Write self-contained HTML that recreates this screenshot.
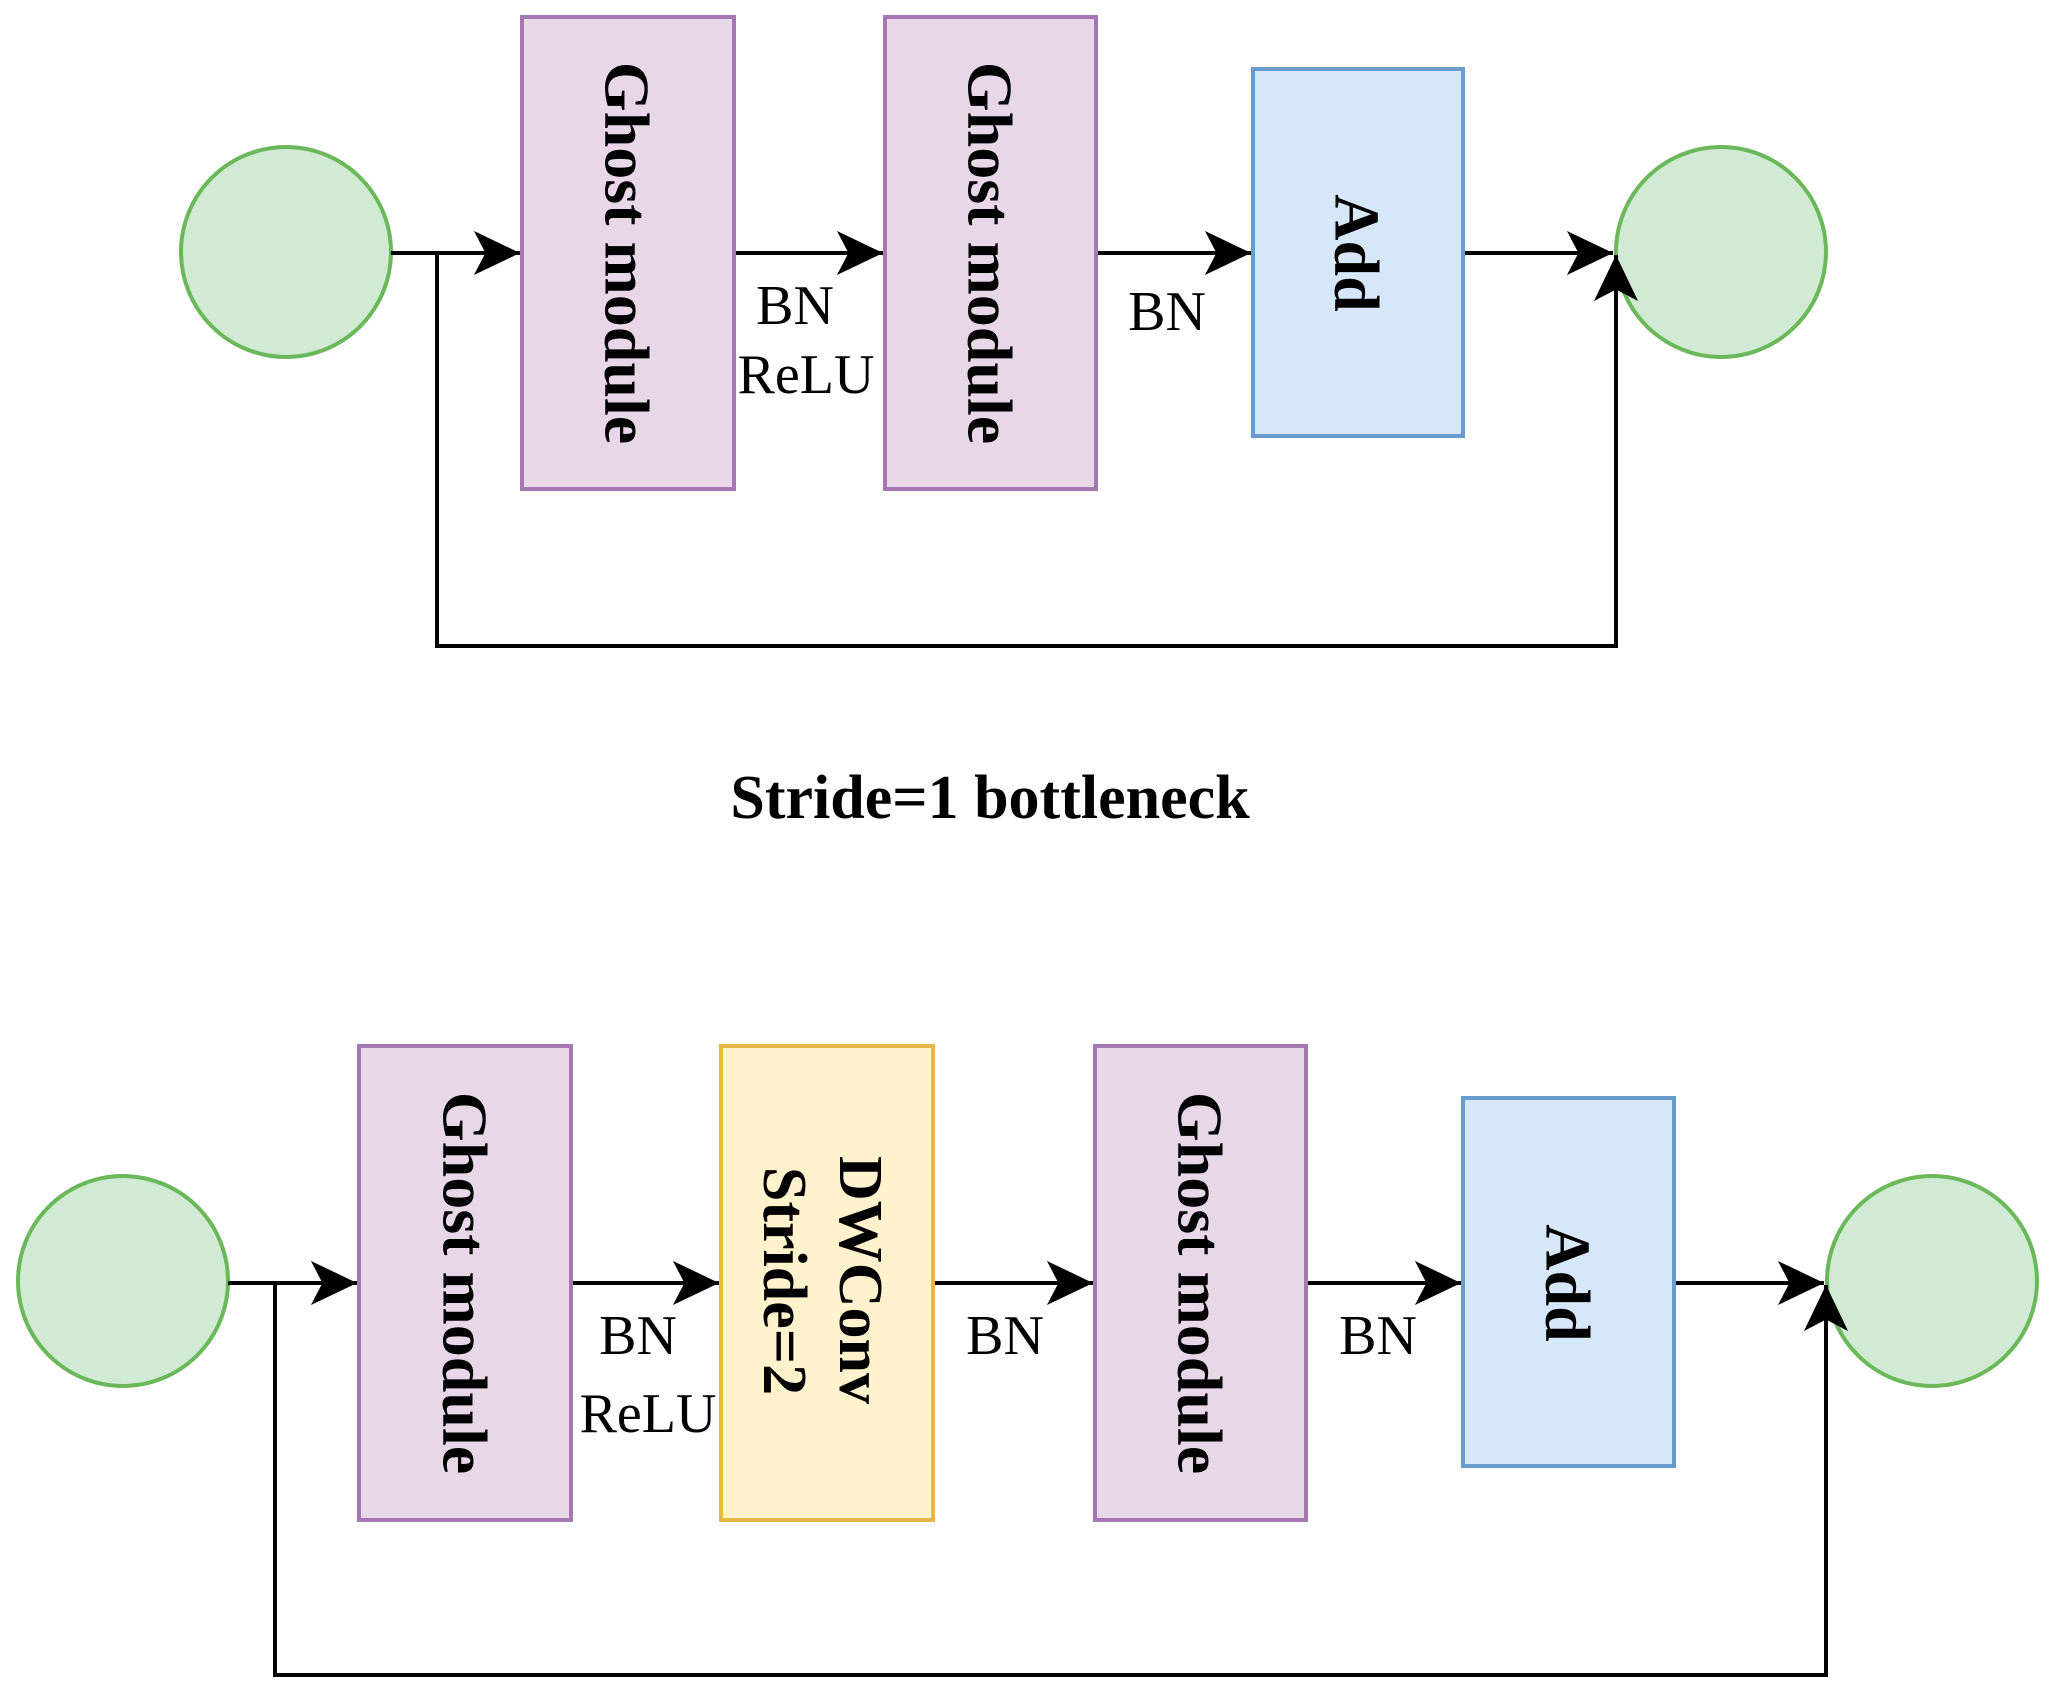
<!DOCTYPE html>
<html><head><meta charset="utf-8"><style>html,body{margin:0;padding:0;background:#fff}svg{display:block}</style></head>
<body>
<svg width="2054" height="1707" viewBox="0 0 2054 1707" xmlns="http://www.w3.org/2000/svg">
<defs>
<marker id="a" viewBox="0 0 50 50" refX="48" refY="25" markerWidth="48" markerHeight="48" markerUnits="userSpaceOnUse" orient="auto">
<path d="M0,2 L48,25 L0,48 L12,25 Z" fill="#000"/>
</marker>
</defs>
<g font-family="'Liberation Serif',serif">
<!-- TOP -->
<circle cx="286" cy="252" r="105" fill="#d0ead3" stroke="#6ab85a" stroke-width="4"/>
<circle cx="1721" cy="252" r="105" fill="#d0ead3" stroke="#6ab85a" stroke-width="4"/>
<rect x="522" y="17" width="212" height="472" fill="#e8d7e8" stroke="#a577b3" stroke-width="4"/>
<rect x="885" y="17" width="211" height="472" fill="#e8d7e8" stroke="#a577b3" stroke-width="4"/>
<rect x="1253" y="69" width="210" height="367" fill="#d5e7f9" stroke="#6a9bcf" stroke-width="4"/>
<g stroke="#000" stroke-width="4" fill="none">
<line x1="391" y1="253" x2="520" y2="253" marker-end="url(#a)"/>
<line x1="736" y1="253" x2="883" y2="253" marker-end="url(#a)"/>
<line x1="1098" y1="253" x2="1251" y2="253" marker-end="url(#a)"/>
<line x1="1465" y1="253" x2="1613" y2="253" marker-end="url(#a)"/>
<polyline points="437,253 437,646 1616,646 1616,255" marker-end="url(#a)"/>
</g>
<text transform="translate(627,253) rotate(90)" text-anchor="middle" dominant-baseline="central" font-size="64" font-weight="bold">Ghost module</text>
<text transform="translate(990,253) rotate(90)" text-anchor="middle" dominant-baseline="central" font-size="64" font-weight="bold">Ghost module</text>
<text transform="translate(1357,253) rotate(90)" text-anchor="middle" dominant-baseline="central" font-size="64" font-weight="bold">Add</text>
<text x="795" y="324" text-anchor="middle" font-size="56">BN</text>
<text x="806" y="393" text-anchor="middle" font-size="56">ReLU</text>
<text x="1167" y="330" text-anchor="middle" font-size="56">BN</text>
<text x="990" y="818" text-anchor="middle" font-size="62" font-weight="bold">Stride=1 bottleneck</text>
<!-- BOTTOM -->
<circle cx="123" cy="1281" r="105" fill="#d0ead3" stroke="#6ab85a" stroke-width="4"/>
<circle cx="1932" cy="1281" r="105" fill="#d0ead3" stroke="#6ab85a" stroke-width="4"/>
<rect x="359" y="1046" width="212" height="474" fill="#e8d7e8" stroke="#a577b3" stroke-width="4"/>
<rect x="721" y="1046" width="212" height="474" fill="#fff2cd" stroke="#e6b84a" stroke-width="4"/>
<rect x="1095" y="1046" width="211" height="474" fill="#e8d7e8" stroke="#a577b3" stroke-width="4"/>
<rect x="1463" y="1098" width="211" height="368" fill="#d5e7f9" stroke="#6a9bcf" stroke-width="4"/>
<g stroke="#000" stroke-width="4" fill="none">
<line x1="228" y1="1283" x2="357" y2="1283" marker-end="url(#a)"/>
<line x1="573" y1="1283" x2="719" y2="1283" marker-end="url(#a)"/>
<line x1="935" y1="1283" x2="1093" y2="1283" marker-end="url(#a)"/>
<line x1="1308" y1="1283" x2="1461" y2="1283" marker-end="url(#a)"/>
<line x1="1676" y1="1283" x2="1824" y2="1283" marker-end="url(#a)"/>
<polyline points="275,1283 275,1675 1826,1675 1826,1285" marker-end="url(#a)"/>
</g>
<text transform="translate(465,1283) rotate(90)" text-anchor="middle" dominant-baseline="central" font-size="64" font-weight="bold">Ghost module</text>
<text transform="translate(860,1280) rotate(90)" text-anchor="middle" dominant-baseline="central" font-size="62" font-weight="bold">DWConv</text>
<text transform="translate(784,1281) rotate(90)" text-anchor="middle" dominant-baseline="central" font-size="62" font-weight="bold">Stride=2</text>
<text transform="translate(1200,1283) rotate(90)" text-anchor="middle" dominant-baseline="central" font-size="64" font-weight="bold">Ghost module</text>
<text transform="translate(1568,1283) rotate(90)" text-anchor="middle" dominant-baseline="central" font-size="64" font-weight="bold">Add</text>
<text x="638" y="1354" text-anchor="middle" font-size="56">BN</text>
<text x="648" y="1432" text-anchor="middle" font-size="56">ReLU</text>
<text x="1005" y="1354" text-anchor="middle" font-size="56">BN</text>
<text x="1378" y="1354" text-anchor="middle" font-size="56">BN</text>
</g>
</svg>
</body></html>
